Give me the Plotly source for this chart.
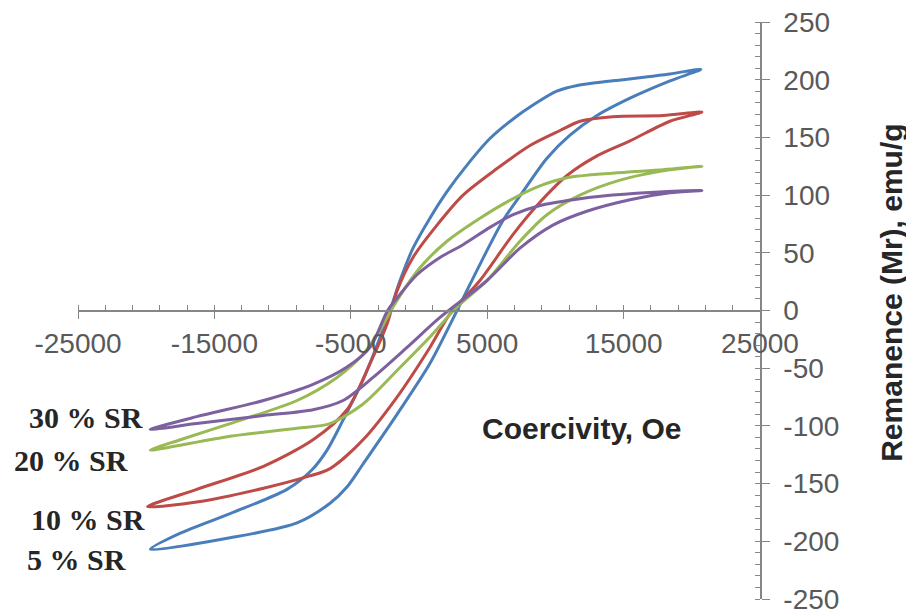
import plotly.graph_objects as go

# ---- data: hysteresis loops (field H in Oe, remanence M in emu/g) ----
# each loop: upper branch (right tip -> left tip) followed by lower branch (left tip -> right tip)
sr5_H = [20670, 18400, 14200, 11600, 10100, 8360, 6900, 5200, 3520, 2050, 800, -440, -1390, -2130,
         -4100, -5570, -6740, -7840, -9680, -13850, -17500, -19700,
         -13850, -8940, -6520, -5280, -4100, -1610, 800, 2790, 4470, 6160, 7620, 9380, 11070,
         13050, 15470, 18400, 20670]
sr5_M = [209, 205, 199, 195, 190, 178, 166, 149, 126, 103, 80, 54, 26, 0,
         -60, -95, -121, -138, -155, -176, -193, -207,
         -197, -184, -167, -153, -133, -90, -46, 0, 40, 78, 103, 132, 152,
         169, 184, 199, 209]

sr10_H = [20740, 17900, 14200, 11800, 10340, 8140, 5720, 3230, 1320, -440, -1610, -2350,
          -3590, -5280, -7770, -11400, -16300, -19900,
          -16300, -11400, -8200, -6520, -4100, -1610, 800, 2270, 4470, 6900, 8650, 10850,
          13050, 15470, 18400, 20740]
sr10_M = [172, 169, 168, 164, 156, 143, 123, 100, 74, 46, 17, -12,
          -46, -86, -112, -135, -155, -170,
          -166, -154, -144, -137, -112, -75, -32, -3, 26, 66, 91, 117,
          134, 147, 164, 172]

sr20_H = [20740, 17900, 14200, 10850, 8870, 6900, 4470, 2050, 290, -880, -1900, -2860,
          -4100, -6010, -8940, -13850, -17500, -19700,
          -13850, -8940, -6520, -4100, -1610, 800, 2790, 4990, 7400, 9380, 11800,
          14740, 17900, 20740]
sr20_M = [125, 122, 119, 115, 108, 97, 80, 60, 40, 22, 3, -17,
          -38, -58, -78, -98, -112, -121,
          -109, -102, -98, -81, -52, -23, 3, 26, 60, 83, 100,
          113, 121, 125]

sr30_H = [20740, 17900, 14200, 11300, 8870, 6900, 5200, 3230, 1540, -150, -1390, -2300,
          -3590, -5280, -7770, -11400, -16300, -19700,
          -16300, -11400, -7770, -5570, -3370, -880, 1540, 4990, 7400, 9820, 12300,
          15470, 18400, 20740]
sr30_M = [104, 103, 100, 96, 91, 83, 72, 57, 46, 31, 14, 0,
          -32, -49, -64, -78, -92, -103,
          -98, -91, -86, -78, -58, -32, -6, 26, 54, 74, 86,
          96, 102, 104]

series_names = ["5 % SR", "10 % SR", "20 % SR", "30 % SR"]
series_colors = ["#4A7EBB", "#BE4B48", "#98B954", "#7D60A0"]

x_tick_vals = [-25000, -15000, -5000, 5000, 15000, 25000]
y_tick_vals = [-250, -200, -150, -100, -50, 0, 50, 100, 150, 200, 250]

fig = go.Figure()
for name, color, H, M in zip(series_names, series_colors,
                             [sr5_H, sr10_H, sr20_H, sr30_H],
                             [sr5_M, sr10_M, sr20_M, sr30_M]):
    fig.add_trace(go.Scatter(x=H, y=M, mode="lines", name=name,
                             line=dict(color=color, width=3, shape="spline", smoothing=0.8),
                             showlegend=False))

axis_color = "#868686"
tick_font = dict(family="Liberation Sans, Arial, sans-serif", size=28, color="#595959")

fig.update_layout(
    width=914, height=614,
    margin=dict(l=70, r=162, t=14, b=23, autoexpand=False),
    paper_bgcolor="white", plot_bgcolor="white",
    xaxis=dict(range=[-25000, 25000], anchor="free", position=0.5, automargin=False,
               showgrid=False, zeroline=False, showline=True, linecolor=axis_color, linewidth=1.5,
               tickmode="array", tickvals=x_tick_vals, ticktext=[str(v) for v in x_tick_vals],
               ticks="outside", ticklen=8, tickcolor=axis_color, tickwidth=1.2,
               tickfont=tick_font, ticklabeloverflow="allow",
               minor=dict(dtick=2000, tick0=-25000, ticks="inside", ticklen=5,
                          tickcolor=axis_color, tickwidth=1, showgrid=False)),
    yaxis=dict(range=[-250, 250], side="right", anchor="x", automargin=False,
               showgrid=False, zeroline=False, showline=True, linecolor=axis_color, linewidth=1.5,
               tickmode="array", tickvals=y_tick_vals, ticktext=[str(v) for v in y_tick_vals],
               ticks="outside", ticklen=8, tickcolor=axis_color, tickwidth=1.2,
               tickfont=tick_font, ticklabelstandoff=8, ticklabeloverflow="allow",
               minor=dict(dtick=10, tick0=0, ticks="inside", ticklen=5,
                          tickcolor=axis_color, tickwidth=1, showgrid=False)),
)

title_font = dict(family="Liberation Sans, Arial, sans-serif", size=30, color="#262626")
fig.add_annotation(text="<b>Coercivity, Oe</b>", xref="paper", yref="paper",
                   x=0.739, y=0.295, showarrow=False, font=title_font,
                   xanchor="center", yanchor="middle")
fig.add_annotation(text="<b>Remanence (Mr), emu/g</b>", xref="paper", yref="paper",
                   x=1.193, y=0.53, showarrow=False, textangle=-90,
                   font=dict(family="Liberation Sans, Arial, sans-serif", size=30, color="#262626"),
                   xanchor="center", yanchor="middle")

label_font = dict(family="Liberation Serif, Times New Roman, serif", size=30, color="#262626")
label_pos = {"30 % SR": (145, 418), "20 % SR": (130, 461), "10 % SR": (147, 520), "5 % SR": (128, 560)}
for txt, (px, py) in label_pos.items():
    fig.add_annotation(text="<b>%s</b>" % txt, xref="paper", yref="paper",
                       x=(px - 78) / 682, y=(600 - py) / 578, showarrow=False,
                       font=label_font, xanchor="right", yanchor="middle")

fig.write_html("out.html")
